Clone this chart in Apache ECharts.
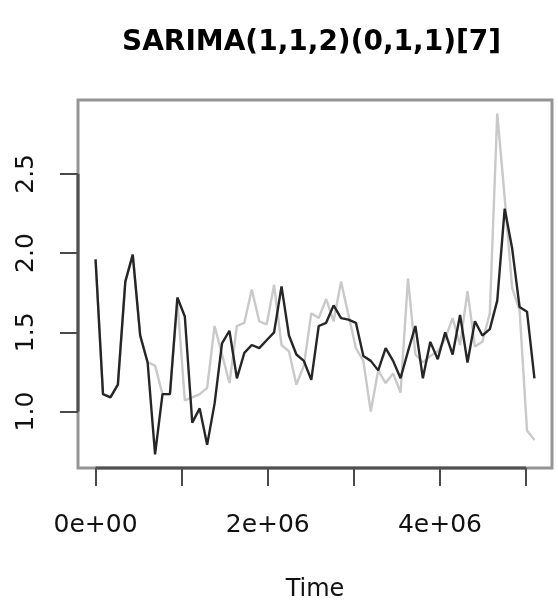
<!DOCTYPE html>
<html><head><meta charset="utf-8">
<script src="https://cdn.jsdelivr.net/npm/echarts@6/dist/echarts.min.js"></script>
<style>html,body{margin:0;padding:0;background:#fff}#c{width:558px;height:607px}</style>
</head><body><div id="c"></div>
<script>
const titleText = 'SARIMA(1,1,2)(0,1,1)[7]';
const xAxisName = 'Time';
const secondsPerStep = 86400;
const darkLine = [1.96,1.11,1.09,1.17,1.82,1.99,1.48,1.31,0.73,1.11,
  1.11,1.72,1.60,0.93,1.02,0.79,1.05,1.43,1.51,1.21,
  1.37,1.42,1.40,1.45,1.50,1.79,1.48,1.36,1.32,1.20,
  1.54,1.56,1.67,1.59,1.58,1.56,1.35,1.32,1.26,1.40,
  1.32,1.21,1.38,1.54,1.21,1.44,1.33,1.50,1.36,1.61,
  1.31,1.57,1.48,1.52,1.70,2.28,2.03,1.66,1.63,1.21];
const lightLine = [1.96,1.11,1.09,1.17,1.82,1.99,1.48,1.31,1.29,1.11,
  1.11,1.70,1.07,1.09,1.11,1.15,1.54,1.36,1.18,1.54,
  1.56,1.77,1.57,1.55,1.80,1.42,1.38,1.17,1.29,1.62,
  1.59,1.71,1.57,1.82,1.61,1.40,1.32,1.00,1.26,1.18,
  1.24,1.12,1.84,1.36,1.31,1.35,1.38,1.46,1.59,1.42,
  1.76,1.41,1.44,1.62,2.88,2.35,1.78,1.64,0.88,0.82];
const xTickValues = [0, 1e6, 2e6, 3e6, 4e6, 5e6];
const xLabelValues = [0, 2e6, 4e6];
const xLabelTexts = ['0e+00', '2e+06', '4e+06'];
const yTickValues = [1.0, 1.5, 2.0, 2.5];
const yLabelTexts = ['1.0', '1.5', '2.0', '2.5'];

const times = darkLine.map((_, i) => i * secondsPerStep);
const tSpan = times[times.length - 1] - times[0];
const xMin = times[0] - 0.04 * tSpan, xMax = times[times.length - 1] + 0.04 * tSpan;
const allV = darkLine.concat(lightLine);
const vLo = Math.min(...allV), vHi = Math.max(...allV);
const yMin = vLo - 0.04 * (vHi - vLo), yMax = vHi + 0.04 * (vHi - vLo);

const FONT = 'DejaVu Sans';
const chart = echarts.init(document.getElementById('c'), null, {renderer: 'canvas'});
chart.setOption({
  animation: false,
  backgroundColor: '#ffffff',
  title: {text: titleText, left: 117, top: 24,
    textStyle: {fontFamily: FONT, fontWeight: 'bold', fontSize: 28, color: '#000'}},
  grid: {left: 78, top: 100, width: 474, height: 372, show: true,
    borderColor: '#959595', borderWidth: 3, backgroundColor: 'transparent'},
  xAxis: {type: 'value', min: xMin, max: xMax, position: 'bottom',
    axisLine: {show: false, onZero: false}, splitLine: {show: false},
    axisTick: {show: true, customValues: xTickValues, length: 18, lineStyle: {color: '#4a4a4a', width: 2}},
    axisLabel: {customValues: xLabelValues, margin: 45, fontFamily: FONT, fontSize: 25, color: '#111',
      formatter: v => xLabelTexts[xLabelValues.indexOf(v)]},
    name: xAxisName, nameLocation: 'middle', nameGap: 110,
    nameTextStyle: {fontFamily: FONT, fontSize: 24, color: '#111'}},
  yAxis: {type: 'value', min: yMin, max: yMax, position: 'left',
    axisLine: {show: false, onZero: false}, splitLine: {show: false},
    axisTick: {show: true, customValues: yTickValues, length: 18, lineStyle: {color: '#4a4a4a', width: 2}},
    axisLabel: {customValues: yTickValues, rotate: 90, margin: 39, fontFamily: FONT, fontSize: 25, color: '#111',
      formatter: v => { const k = yTickValues.indexOf(v); return k >= 0 ? yLabelTexts[k] : v.toFixed(1); }}},
  series: [
    {type: 'line', data: times.map((t, i) => [t, lightLine[i]]), symbol: 'none', z: 2,
      lineStyle: {color: '#c9c9c9', width: 2.4}},
    {type: 'line', data: times.map((t, i) => [t, darkLine[i]]), symbol: 'none', z: 3,
      lineStyle: {color: '#262626', width: 2.4}},
    {type: 'custom', coordinateSystem: 'cartesian2d', clip: false, silent: true, z: 5,
      data: [[xTickValues[0], yTickValues[0]]],
      renderItem: (params, api) => {
        const a = api.coord([xTickValues[0], yMin]);
        const b = api.coord([xTickValues[xTickValues.length - 1], yMin]);
        const c = api.coord([xMin, yTickValues[0]]);
        const d = api.coord([xMin, yTickValues[yTickValues.length - 1]]);
        return {type: 'group', children: [
          {type: 'line', shape: {x1: a[0], y1: a[1], x2: b[0], y2: b[1]}, style: {stroke: '#505050', lineWidth: 3}},
          {type: 'line', shape: {x1: c[0], y1: c[1], x2: d[0], y2: d[1]}, style: {stroke: '#505050', lineWidth: 3}}
        ]};
      }}
  ]
});
</script></body></html>
